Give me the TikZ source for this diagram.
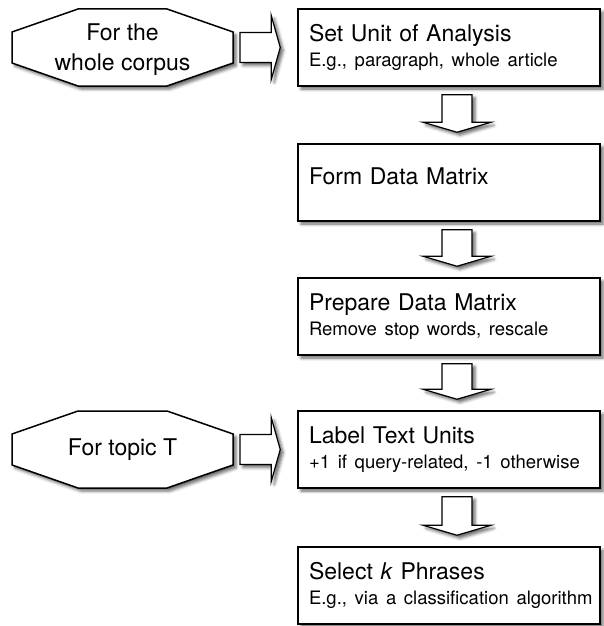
\documentclass[tikz,border=0pt]{standalone}
\usepackage{fontspec}
\setmainfont{TeX Gyre Heros}
\usetikzlibrary{calc,shadows.blur}

% second line of a step box
\newcommand{\stepnote}[1]{{\fontsize{18.5}{25}\selectfont\mbox{#1}}}

% hollow block arrow going down from one step to the next
\newcommand{\flowdown}[2]{%
  \path[blockarrow] ($(#1.south)+(-7,8)$) -- ($(#1.south)+(23,8)$)
    -- ($(#2.north)+(23,-21)$) -- ($(#2.north)+(42,-21)$)
    -- ($(#2.north)+(8,-11)$)
    -- ($(#2.north)+(-26,-21)$) -- ($(#2.north)+(-7,-21)$) -- cycle;}

% hollow block arrow from a scope label into a step
\newcommand{\flowright}[2]{%
  \path[blockarrow] ($(#1.east)+(7,-15)$) -- ($(#2.west)+(-26,-15)$)
    -- ($(#2.west)+(-26,-32)$) -- ($(#2.west)+(-17,0)$)
    -- ($(#2.west)+(-26,32)$) -- ($(#2.west)+(-26,15)$)
    -- ($(#1.east)+(7,15)$) -- cycle;}

% stretched octagon round a scope label
\newcommand{\drawoctagon}[1]{%
  \path[scopeframe] ($(#1)+(-44.5,-38.5)$) -- ($(#1)+(44.5,-38.5)$)
    -- ($(#1)+(110.5,-15.5)$) -- ($(#1)+(110.5,15.5)$)
    -- ($(#1)+(44.5,38.5)$) -- ($(#1)+(-44.5,38.5)$)
    -- ($(#1)+(-110.5,15.5)$) -- ($(#1)+(-110.5,-15.5)$) -- cycle;}

\begin{document}
\begin{tikzpicture}
    [
    x=1pt, y=-1pt,
    softshadow/.style={blur shadow={shadow xshift=3pt, shadow yshift=-3pt, shadow blur radius=3pt, shadow opacity=60}},
    stepbox/.style={rectangle, draw, line width=1.5pt, fill=white, softshadow, minimum width=302pt, minimum height=77pt,
      text width=280pt, inner xsep=11pt, align=left, font=\fontsize{23}{25}\selectfont},
    scopelabel/.style={minimum width=221pt, minimum height=77pt, inner sep=0pt, outer sep=0pt, align=center,
      font=\fontsize{23}{30}\selectfont},
    scopeframe/.style={draw, line width=1.5pt, fill=white, softshadow, line join=miter},
    blockarrow/.style={draw, line width=1.2pt, fill=white, softshadow, line join=miter}
    ]
    \useasboundingbox (0,0) rectangle (604,626);

    % the steps
    \node (unit) at (449,47.5) [stepbox] {Set Unit of Analysis\\\stepnote{E.g., paragraph, whole article}};
    \node (form) at (449,182.5) [stepbox,text depth=12pt] {Form Data Matrix};
    \node (prep) at (449,316.5) [stepbox] {Prepare Data Matrix\\\stepnote{Remove stop words, rescale}};
    \node (label) at (449,449.5) [stepbox] {Label Text Units\\\stepnote{+1 if query-related, -1 otherwise}};
    \node (select) at (449,585.5) [stepbox] {Select \textit{k} Phrases\\\stepnote{E.g., via a classification algorithm}};

    % what each part is done for
    \coordinate (wholeat) at (122.5,47.5);
    \coordinate (topicat) at (122.5,449.5);
    \drawoctagon{wholeat}
    \drawoctagon{topicat}
    \node (whole) at (wholeat) [scopelabel,text depth=0pt] {For the\\whole corpus};
    \node (topic) at (topicat) [scopelabel] {For topic T};

    \foreach \a/\b in {unit/form, form/prep, prep/label, label/select}
      {\flowdown{\a}{\b}}
    \flowright{whole}{unit}
    \flowright{topic}{label}
  \end{tikzpicture}
\end{document}
